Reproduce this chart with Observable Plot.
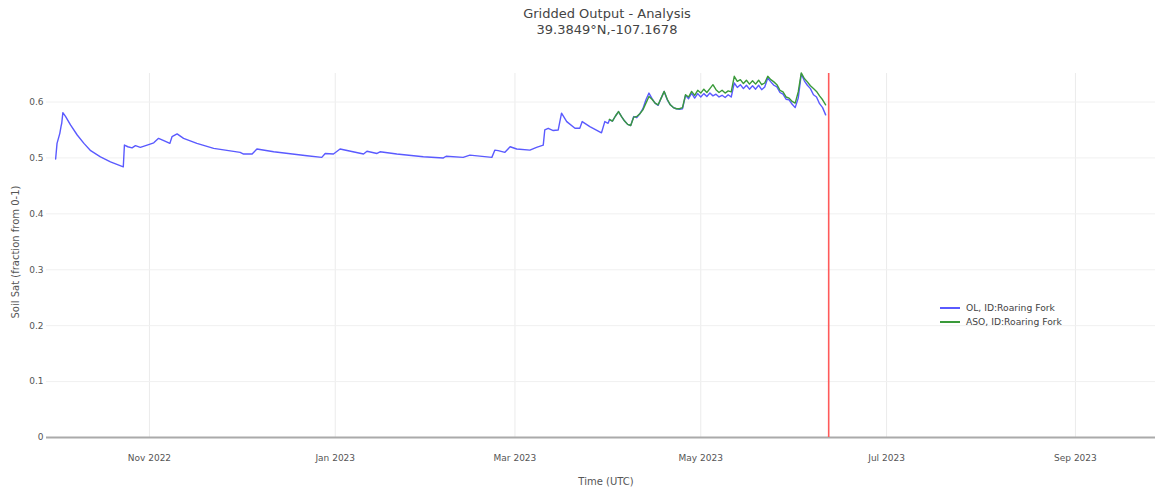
<!DOCTYPE html>
<html><head><meta charset="utf-8">
<script src="https://cdn.jsdelivr.net/npm/d3@7"></script>
<script src="https://cdn.jsdelivr.net/npm/@observablehq/plot@0.6"></script>
<style>
body{margin:0;background:#fff;font-family:"DejaVu Sans",Verdana,sans-serif;}
#wrap{position:relative;width:1157px;height:490px;overflow:hidden;}
#title{height:45px;text-align:center;color:#444;font-size:13px;line-height:15.5px;padding-top:6px;padding-left:57px;box-sizing:border-box;}
#legend{position:absolute;left:940px;top:301px;font-size:9.2px;color:#444;line-height:14px;}
#legend .row{display:flex;align-items:center;height:14px;}
#legend svg{margin-right:6px;}
.axt{position:absolute;font-size:10px;color:#555;white-space:nowrap;}
#ylab{left:15px;top:252px;transform:translate(-50%,-50%) rotate(-90deg);}
#xlab{left:606px;top:481px;transform:translate(-50%,-50%);}
</style></head><body>
<div id="wrap">
<div id="title">Gridded Output - Analysis<br>39.3849°N,-107.1678</div>
<div id="chart"></div>
<div id="legend"></div>
<div id="ylab" class="axt">Soil Sat (fraction from 0-1)</div>
<div id="xlab" class="axt">Time (UTC)</div>
</div>
<script>
// ---- data ----
const seriesNames = ["OL, ID:Roaring Fork", "ASO, ID:Roaring Fork"];
const seriesColors = ["#5a5aff", "#3a9a3a"];

// OL breakpoints (Oct 2022 – Mar 2023)
const olTimeEarly = [
 "2022-10-01 05:00","2022-10-01 16:00","2022-10-02 14:00","2022-10-03 00:00","2022-10-03 05:00","2022-10-03 14:00",
 "2022-10-04 12:00","2022-10-06 02:00","2022-10-08 07:00","2022-10-10 12:00","2022-10-12 17:00","2022-10-15 22:00",
 "2022-10-19 05:00","2022-10-23 10:00","2022-10-23 19:00","2022-10-24 22:00","2022-10-26 07:00","2022-10-27 10:00",
 "2022-10-29 00:00","2022-10-31 06:00","2022-11-02 10:00","2022-11-04 00:00","2022-11-05 17:00","2022-11-07 17:00",
 "2022-11-08 10:00","2022-11-10 02:00","2022-11-12 05:00","2022-11-16 14:00","2022-11-22 02:00","2022-11-30 19:00",
 "2022-12-01 22:00","2022-12-04 17:00","2022-12-06 07:00","2022-12-11 19:00","2022-12-22 17:00","2022-12-27 14:00",
 "2022-12-28 17:00","2022-12-31 10:00","2023-01-02 14:00","2023-01-10 07:00","2023-01-11 10:00","2023-01-14 17:00",
 "2023-01-15 17:00","2023-01-21 05:00","2023-01-29 22:00","2023-02-05 12:00","2023-02-06 10:00","2023-02-12 00:00",
 "2023-02-14 05:00","2023-02-21 10:00","2023-02-22 10:00","2023-02-23 12:00","2023-02-25 17:00","2023-02-27 10:00",
 "2023-03-01 14:00","2023-03-05 22:00","2023-03-08 02:00","2023-03-10 07:00","2023-03-10 19:00","2023-03-11 22:00",
 "2023-03-13 14:00","2023-03-15 05:00","2023-03-16 07:00","2023-03-18 00:00","2023-03-20 17:00","2023-03-22 07:00",
 "2023-03-23 02:00","2023-03-25 14:00","2023-03-29 10:00","2023-03-30 12:00","2023-03-31 14:00"
];
const olValueEarly = [
 0.498,0.526,0.544,0.557,0.562,0.581,
 0.574,0.559,0.541,0.526,0.513,0.502,
 0.493,0.484,0.523,0.520,0.518,0.522,
 0.519,0.523,0.527,0.535,0.531,0.526,
 0.538,0.543,0.535,0.526,0.517,0.510,
 0.507,0.507,0.516,0.511,0.504,0.501,
 0.508,0.507,0.516,0.507,0.512,0.508,
 0.511,0.507,0.502,0.500,0.503,0.501,
 0.505,0.501,0.514,0.513,0.510,0.520,
 0.516,0.514,0.519,0.523,0.550,0.553,
 0.549,0.550,0.580,0.565,0.553,0.553,
 0.565,0.556,0.545,0.565,0.562
];

// Daily values, 2023-04-01 .. 2023-06-11
const dailyStart = "2023-04-01";
const dailyEnd = "2023-06-12";
const olDaily = [
 0.568,0.566,0.575,0.583,0.574,0.566,0.560,0.558,0.574,0.572,
 0.579,0.588,0.604,0.616,0.606,0.598,0.594,0.607,0.619,0.604,
 0.595,0.590,0.588,0.587,0.588,0.612,0.606,0.616,0.607,0.615,
 0.609,0.615,0.610,0.616,0.611,0.614,0.609,0.612,0.608,0.613,
 0.609,0.634,0.626,0.631,0.624,0.630,0.623,0.629,0.623,0.630,
 0.622,0.627,0.643,0.636,0.630,0.627,0.617,0.614,0.605,0.604,
 0.596,
 0.590,0.607,0.650,0.638,0.630,0.624,0.613,0.609,0.597,0.590,0.577
];
const asoDaily = [
 0.569,0.566,0.575,0.583,0.574,0.566,0.560,0.558,0.573,0.574,
 0.579,0.586,0.598,0.610,0.605,0.598,0.595,0.607,0.619,0.605,
 0.595,0.590,0.588,0.588,0.590,0.613,0.609,0.619,0.612,0.621,
 0.616,0.623,0.617,0.624,0.631,0.622,0.617,0.621,0.616,0.620,
 0.618,0.646,0.637,0.640,0.633,0.639,0.632,0.638,0.632,0.639,
 0.631,0.634,0.646,0.640,0.636,0.631,0.621,0.618,0.609,0.607,
 0.601,
 0.598,0.618,0.652,0.642,0.636,0.629,0.624,0.619,0.611,0.604,0.595
];

const markerTime = "2023-06-12 00:00";
const xTickTimes = ["2022-11-01 00:00","2023-01-01 00:00","2023-03-01 00:00","2023-05-01 00:00","2023-07-01 00:00","2023-09-01 00:00"];
const yTicks = [0,0.1,0.2,0.3,0.4,0.5,0.6];
const xDomain = ["2022-09-28 05:00","2023-09-27 07:00"];
const yDomain = [0,0.651];

// ---- build ----
const parse = d3.utcParse("%Y-%m-%d %H:%M");
const days = d3.utcDay.range(d3.utcParse("%Y-%m-%d")(dailyStart), d3.utcParse("%Y-%m-%d")(dailyEnd));
const ol = olTimeEarly.map((t,i)=>({time:parse(t), value:olValueEarly[i]}))
  .concat(days.map((d,i)=>({time:d, value:olDaily[i]})));
const aso = days.map((d,i)=>({time:d, value:asoDaily[i]}));
const xTicks = xTickTimes.map(parse);

const chart = Plot.plot({
  width:1157, height:445,
  marginLeft:46, marginRight:2, marginTop:28, marginBottom:53,
  style:{fontFamily:"DejaVu Sans, Verdana, sans-serif", fontSize:"9px", color:"#555", background:"#fff", overflow:"visible"},
  x:{type:"utc", domain:xDomain.map(parse)},
  y:{domain:yDomain},
  marks:[
    Plot.gridX(xTicks,{stroke:"#ebebeb", strokeOpacity:1}),
    Plot.gridY(yTicks.slice(1),{stroke:"#f0f0f0", strokeOpacity:1}),
    Plot.axisX(xTicks,{tickSize:0, tickPadding:17, tickFormat:d3.utcFormat("%b %Y"), label:null, fill:"#555"}),
    Plot.axisY(yTicks,{tickSize:0, tickPadding:3, tickFormat:d=>d===0?"0":d3.format(".1f")(d), label:null, fill:"#555"}),
    Plot.ruleY([0],{stroke:"#aaa", strokeWidth:2}),
    Plot.line(ol,{x:"time", y:"value", stroke:seriesColors[0], strokeWidth:1.4, curve:"linear"}),
    Plot.line(aso,{x:"time", y:"value", stroke:seriesColors[1], strokeWidth:1.4, curve:"linear"}),
    Plot.ruleX([parse(markerTime)],{stroke:"#ff5a5a", strokeWidth:1.6})
  ]
});
document.getElementById("chart").appendChild(chart);

const legend = document.getElementById("legend");
seriesNames.forEach((n,i)=>{
  const row = document.createElement("div");
  row.className = "row";
  row.innerHTML = `<svg width="20" height="4"><line x1="0" x2="20" y1="2" y2="2" stroke="${seriesColors[i]}" stroke-width="2"/></svg><span>${n}</span>`;
  legend.appendChild(row);
});
</script>
</body></html>
